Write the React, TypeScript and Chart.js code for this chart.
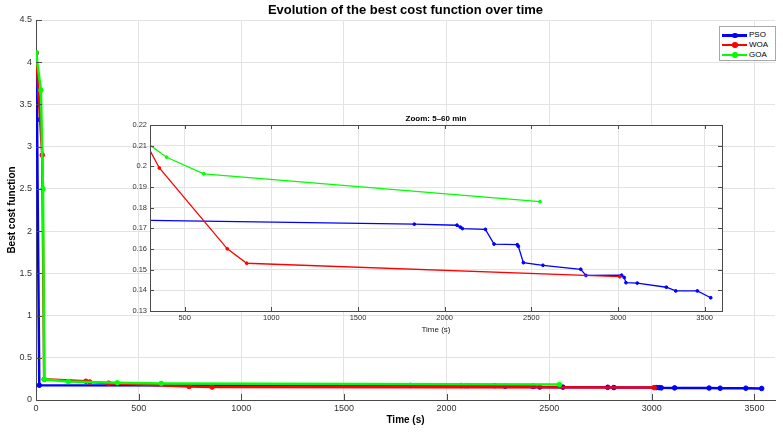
import React, { useEffect, useRef } from "react";
import { Chart, registerables } from "chart.js";
Chart.register(...registerables);

// ---------- data ----------
const seriesNames = ["PSO", "WOA", "GOA"];
const seriesColors = ["#0000ff", "#ff0000", "#00ff00"];

const psoTime = [0, 5, 16, 1825, 2071, 2090, 2102, 2235, 2285, 2419, 2425, 2454, 2567, 2785, 2815, 3021, 3036, 3046, 3111, 3279, 3333, 3458, 3535];
const psoCost = [4.11, 3.32, 0.1742, 0.172, 0.1715, 0.1706, 0.1699, 0.1695, 0.1624, 0.1621, 0.1613, 0.1534, 0.1521, 0.1502, 0.1472, 0.1473, 0.1462, 0.1437, 0.1435, 0.1415, 0.1397, 0.1397, 0.1364];

const woaTime = [0, 30.5, 40, 243, 262, 354, 746, 858, 3011];
const woaCost = [4.11, 2.9, 0.245, 0.222, 0.2135, 0.1992, 0.1601, 0.1531, 0.1466];

const goaTime = [0, 24, 34, 40, 157, 396, 610, 2550];
const goaCost = [4.11, 3.67, 2.5, 0.245, 0.219, 0.2044, 0.1964, 0.1829];

const mainTitle = "Evolution of the best cost function over time";
const insetTitle = "Zoom: 5–60 min";
const xLabel = "Time (s)";
const yLabel = "Best cost function";

const mainXRange = [0, 3600];
const mainYRange = [0, 4.5];
const insetXRange = [300, 3600];
const insetYRange = [0.13, 0.22];
const mainXTicks = [0, 500, 1000, 1500, 2000, 2500, 3000, 3500];
const mainYTicks = [0, 0.5, 1, 1.5, 2, 2.5, 3, 3.5, 4, 4.5];
const insetXTicks = [500, 1000, 1500, 2000, 2500, 3000, 3500];
const insetYTicks = [0.13, 0.14, 0.15, 0.16, 0.17, 0.18, 0.19, 0.2, 0.21, 0.22];

// ---------- styles ----------
const FONT = "'Liberation Sans', Arial, Helvetica, sans-serif";
const AXIS = "#4a4a4a";
const TICKTXT = "#333333";
const GRID = "#e3e3e3";

const allSeries = [
  [psoTime, psoCost],
  [woaTime, woaCost],
  [goaTime, goaCost],
];

function buildDatasets(lineWidth: number, radius: number) {
  return allSeries.map(([t, c], i) => ({
    label: seriesNames[i],
    data: t.map((x, k) => ({ x, y: c[k] })),
    borderColor: seriesColors[i],
    backgroundColor: seriesColors[i],
    pointBackgroundColor: seriesColors[i],
    pointBorderColor: seriesColors[i],
    borderWidth: lineWidth,
    pointRadius: radius,
    pointBorderWidth: 1,
    showLine: true,
    tension: 0,
    fill: false,
    order: allSeries.length - i,
  }));
}

function fmt(v: number) {
  return String(Math.round(v * 1000) / 1000);
}

const setTicks = (vals: number[]) => (s: any) => {
  s.ticks = vals.map((value) => ({ value }));
};

// title centred over the plot area (MATLAB style)
const areaTitlePlugin = (text: string, font: string, y: number) => ({
  id: "areaTitle",
  afterDraw(chart: any) {
    const { ctx, chartArea: a } = chart;
    ctx.save();
    ctx.font = font;
    ctx.fillStyle = "#000";
    ctx.textAlign = "center";
    ctx.textBaseline = "middle";
    ctx.fillText(text, (a.left + a.right) / 2, y);
    ctx.restore();
  },
});

const makeTickPlugin = (len: number, box: boolean, white: boolean) => ({
  id: "inwardTicks",
  beforeDraw(chart: any) {
    if (!white) return;
    const { ctx, chartArea: a } = chart;
    ctx.save();
    ctx.fillStyle = "#ffffff";
    ctx.fillRect(a.left, a.top, a.right - a.left, a.bottom - a.top);
    ctx.restore();
  },
  afterDraw(chart: any) {
    const { ctx, chartArea: a, scales } = chart;
    ctx.save();
    ctx.strokeStyle = AXIS;
    ctx.lineWidth = 1;
    ctx.beginPath();
    for (const t of scales.x.ticks) {
      const px = Math.round(scales.x.getPixelForValue(t.value)) + 0.5;
      ctx.moveTo(px, a.bottom);
      ctx.lineTo(px, a.bottom - len);
      if (box) {
        ctx.moveTo(px, a.top);
        ctx.lineTo(px, a.top + len);
      }
    }
    for (const t of scales.y.ticks) {
      const py = Math.round(scales.y.getPixelForValue(t.value)) + 0.5;
      ctx.moveTo(a.left, py);
      ctx.lineTo(a.left + len, py);
      if (box) {
        ctx.moveTo(a.right, py);
        ctx.lineTo(a.right - len, py);
      }
    }
    ctx.stroke();
    if (box) {
      ctx.strokeRect(Math.round(a.left) + 0.5, Math.round(a.top) + 0.5, Math.round(a.right - a.left), Math.round(a.bottom - a.top));
    }
    ctx.restore();
  },
});

export default function App() {
  const mainRef = useRef<HTMLCanvasElement>(null);
  const insetRef = useRef<HTMLCanvasElement>(null);

  useEffect(() => {
    Chart.defaults.font.family = FONT;
    const main = new Chart(mainRef.current as HTMLCanvasElement, {
      type: "scatter",
      data: { datasets: buildDatasets(2.5, 2.3) as any },
      options: {
        animation: false,
        responsive: false,
        maintainAspectRatio: false,
        layout: { padding: { left: 0, right: 8, top: 20, bottom: 0 } },
        plugins: {
          legend: { display: false },
          tooltip: { enabled: false },
          title: { display: false },
        },
        scales: {
          x: {
            type: "linear",
            min: mainXRange[0],
            max: mainXRange[1],
            afterBuildTicks: setTicks(mainXTicks),
            afterFit: (s: any) => { s.height = 32; },
            border: { display: true, color: AXIS, width: 1 },
            grid: { color: GRID, drawTicks: false, lineWidth: 1 },
            ticks: { padding: 3.6, color: TICKTXT, font: { size: 9 }, maxRotation: 0, autoSkip: false, callback: (v: any) => fmt(Number(v)) },
            title: { display: true, text: xLabel, color: "#000", font: { size: 10, weight: "bold" }, padding: { top: 0, bottom: 6 } },
          },
          y: {
            type: "linear",
            min: mainYRange[0],
            max: mainYRange[1],
            afterBuildTicks: setTicks(mainYTicks),
            afterFit: (s: any) => { s.width = 36; },
            border: { display: true, color: AXIS, width: 1 },
            grid: { color: GRID, drawTicks: false, lineWidth: 1 },
            ticks: { padding: 4, color: TICKTXT, font: { size: 9 }, autoSkip: false, callback: (v: any) => fmt(Number(v)) },
            title: { display: true, text: yLabel, color: "#000", font: { size: 10, weight: "bold" }, padding: { top: 6.5, bottom: 0 } },
          },
        },
      } as any,
      plugins: [makeTickPlugin(6, false, false), areaTitlePlugin(mainTitle, `bold 13px ${FONT}`, 10)],
    });

    const inset = new Chart(insetRef.current as HTMLCanvasElement, {
      type: "scatter",
      data: { datasets: buildDatasets(1.3, 1.4) as any },
      options: {
        animation: false,
        responsive: false,
        maintainAspectRatio: false,
        layout: { padding: { left: 0, right: 10, top: 15, bottom: 0 } },
        plugins: {
          legend: { display: false },
          tooltip: { enabled: false },
          title: { display: false },
        },
        scales: {
          x: {
            type: "linear",
            min: insetXRange[0],
            max: insetXRange[1],
            afterBuildTicks: setTicks(insetXTicks),
            afterFit: (s: any) => { s.height = 31; },
            border: { display: false },
            grid: { color: GRID, drawTicks: false, lineWidth: 1 },
            ticks: { padding: 2.5, color: TICKTXT, font: { size: 7.5 }, maxRotation: 0, autoSkip: false, callback: (v: any) => fmt(Number(v)) },
            title: { display: true, text: xLabel, color: "#222", font: { size: 8 }, padding: { top: 0, bottom: 7.2 } },
          },
          y: {
            type: "linear",
            min: insetYRange[0],
            max: insetYRange[1],
            afterBuildTicks: setTicks(insetYTicks),
            afterFit: (s: any) => { s.width = 38; },
            border: { display: false },
            grid: { color: GRID, drawTicks: false, lineWidth: 1 },
            ticks: { padding: 3, color: TICKTXT, font: { size: 7.5 }, autoSkip: false, callback: (v: any) => fmt(Number(v)) },
          },
        },
      } as any,
      plugins: [makeTickPlugin(4, true, true), areaTitlePlugin(insetTitle, `bold 8px ${FONT}`, 9)],
    });

    return () => {
      main.destroy();
      inset.destroy();
    };
  }, []);

  return (
    <div style={{ position: "absolute", left: 0, top: 0, width: 783, height: 432, background: "#fff", fontFamily: FONT }}>
      <canvas ref={mainRef} width={783} height={432} style={{ position: "absolute", left: 0, top: 0, width: 783, height: 432 }} />
      <canvas ref={insetRef} width={620} height={232} style={{ position: "absolute", left: 112, top: 110, width: 620, height: 232 }} />
      <div
        style={{
          position: "absolute",
          left: 719,
          top: 26,
          width: 55,
          height: 33,
          border: "1px solid #a8a8a8",
          background: "#fff",
          fontSize: 8,
          color: "#000",
        }}
      >
        {seriesNames.map((n, i) => (
          <div key={n} style={{ position: "absolute", left: 0, top: 3 + i * 9.8, height: 10, width: 55 }}>
            <div style={{ position: "absolute", left: 2, top: 4, width: 25, height: 2.5, background: seriesColors[i] }} />
            <div style={{ position: "absolute", left: 12, top: 2.5, width: 5.5, height: 5.5, borderRadius: "50%", background: seriesColors[i] }} />
            <div style={{ position: "absolute", left: 29, top: 0, lineHeight: "10px", whiteSpace: "nowrap" }}>{n}</div>
          </div>
        ))}
      </div>
    </div>
  );
}
